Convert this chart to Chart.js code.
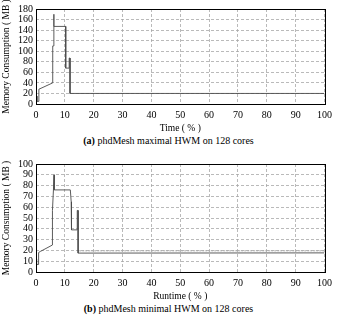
<!DOCTYPE html>
<html>
<head>
<meta charset="utf-8">
<script src="https://cdn.jsdelivr.net/npm/chart.js@4.4.0/dist/chart.umd.min.js"></script>
<style>
  body { margin: 0; background: #fff; width: 337px; height: 315px; position: relative; overflow: hidden; }
  .box { position: absolute; left: 0; width: 337px; }
  .cap { position: absolute; left: 0; width: 337px; text-align: center; font-family: "Liberation Serif", serif; font-size: 10px; color: #000; }
</style>
</head>
<body>
<div class="box" style="top:0;height:134px"><canvas id="chartA" width="337" height="134"></canvas></div>
<div class="cap" style="top:135px"><b>(a)</b> phdMesh maximal HWM on 128 cores</div>
<div class="box" style="top:148px;height:154px"><canvas id="chartB" width="337" height="154"></canvas></div>
<div class="cap" style="top:303px"><b>(b)</b> phdMesh minimal HWM on 128 cores</div>
<script>
// chart (a): maximal HWM, time in % vs MB
const maxTime = [0.3, 0.3, 1.0, 1.0, 5.8, 5.8, 6.1, 6.2, 6.2, 10.3, 10.3, 11.5, 11.5, 11.8, 11.8, 100];
const maxMem  = [15, 5, 5, 28, 40, 110, 110, 170, 147, 147, 68, 68, 87, 87, 20, 20];

// chart (b): minimal HWM
const minTime = [0.2, 0.2, 0.9, 0.9, 1.5, 5.7, 5.7, 6.3, 6.3, 11.9, 12.2, 12.3, 14.3, 14.3, 14.6, 14.6, 100];
const minMem  = [12, 7, 7, 18, 19, 25, 57, 90, 76, 76, 65, 39, 39, 57, 57, 17.5, 17.7];
const minNoiseTime = [15, 100];
const minNoiseMem = [19.6, 19.6];

const xTicks = [0, 10, 20, 30, 40, 50, 60, 70, 80, 90, 100];

const TICKFONT = { family: "Liberation Serif", size: 10 };
const TITLEFONT = { family: "Liberation Serif", size: 9.5 };

const frame = {
  id: "frame",
  afterDraw(chart) {
    const a = chart.chartArea;
    const c = chart.ctx;
    c.save();
    c.strokeStyle = "#000";
    c.lineWidth = 1;
    c.strokeRect(Math.round(a.left) + 0.5, Math.round(a.top) + 0.5, Math.round(a.right - a.left), Math.round(a.bottom - a.top));
    c.restore();
  }
};

function pts(xs, ys) {
  return xs.map((x, i) => ({ x: x, y: ys[i] }));
}

function makeChart(id, datasets, yMax, yStep, xTitle, padTop) {
  return new Chart(document.getElementById(id), {
    type: "scatter",
    data: { datasets: datasets },
    options: {
      responsive: false,
      animation: false,
      events: [],
      layout: { padding: { top: padTop, right: 8, left: 1, bottom: 0 } },
      plugins: { legend: { display: false }, tooltip: { enabled: false } },
      scales: {
        x: {
          type: "linear", min: 0, max: 100,
          afterFit: s => { s.height = 30; },
          afterBuildTicks: s => { s.ticks = xTicks.map(v => ({ value: v })); },
          ticks: { font: TICKFONT, color: "#000", padding: 5, maxRotation: 0, autoSkip: false },
          grid: { color: "#a8a8a8", drawTicks: false, lineWidth: 0.8 },
          border: { display: false, dash: [3, 2] },
          title: { display: true, text: xTitle, font: TITLEFONT, color: "#000", padding: 0 }
        },
        y: {
          min: 0, max: yMax,
          afterFit: s => { s.width = 35; },
          ticks: { stepSize: yStep, font: TICKFONT, color: "#000", padding: 3, autoSkip: false },
          grid: { color: "#a8a8a8", drawTicks: false, lineWidth: 0.8 },
          border: { display: false, dash: [3, 2] },
          title: { display: true, text: "Memory Consumption ( MB )", font: TITLEFONT, color: "#000", padding: 0 }
        }
      }
    },
    plugins: [frame]
  });
}

makeChart("chartA", [
  { data: pts(maxTime, maxMem), showLine: true, borderColor: "#4a4a4a", borderWidth: 0.9, pointRadius: 0 }
], 180, 20, "Time ( % )", 7);

makeChart("chartB", [
  { data: pts(minNoiseTime, minNoiseMem), showLine: true, borderColor: "#aaa", borderWidth: 1, borderDash: [2, 1], pointRadius: 0 },
  { data: pts(minTime, minMem), showLine: true, borderColor: "#4a4a4a", borderWidth: 0.9, pointRadius: 0 }
], 100, 10, "Runtime ( % )", 16);
</script>
</body>
</html>
